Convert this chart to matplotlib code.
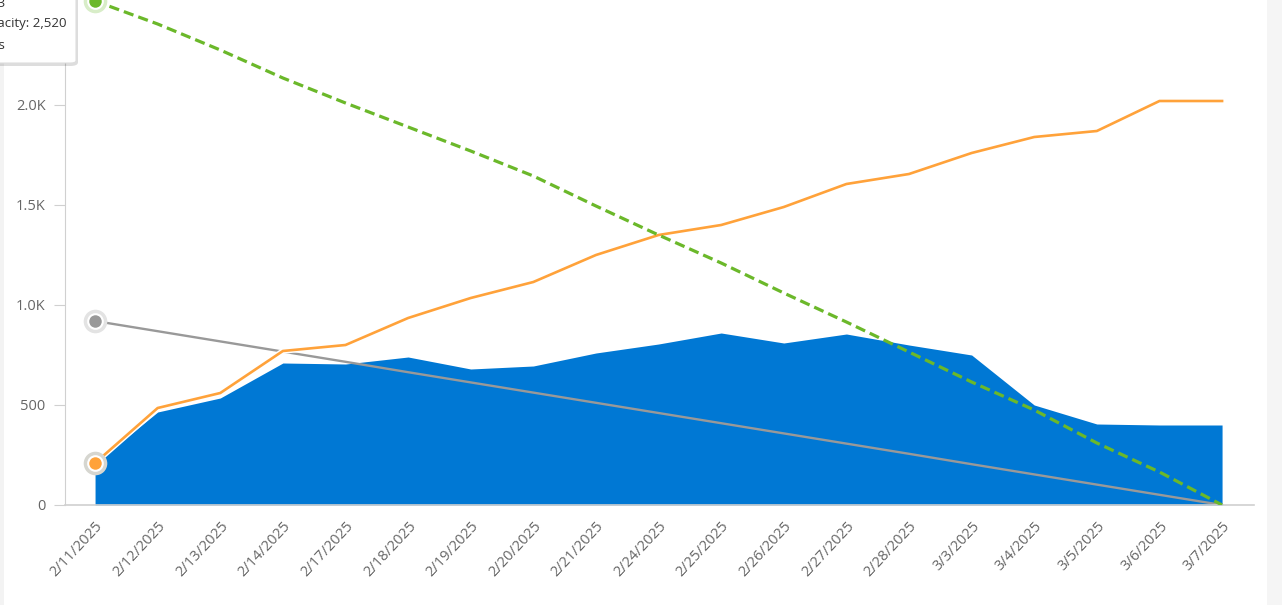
import matplotlib
matplotlib.use("Agg")
import matplotlib.pyplot as plt
import matplotlib.patheffects as pe
from matplotlib.patches import Rectangle, FancyBboxPatch
from matplotlib.ticker import FuncFormatter

# burndown data
dates = ["2/11/2025", "2/12/2025", "2/13/2025", "2/14/2025", "2/17/2025", "2/18/2025",
         "2/19/2025", "2/20/2025", "2/21/2025", "2/24/2025", "2/25/2025", "2/26/2025",
         "2/27/2025", "2/28/2025", "3/3/2025", "3/4/2025", "3/5/2025", "3/6/2025", "3/7/2025"]
remaining = [210, 465, 535, 710, 705, 740, 680, 695, 760, 805, 860, 810, 855, 800, 750, 500, 405, 400, 400]
total_scope = [210, 485, 560, 770, 800, 935, 1035, 1115, 1250, 1350, 1400, 1490, 1605, 1655, 1760, 1840, 1870, 2020, 2020]
ideal_trend = [920, 869, 818, 767, 716, 664, 613, 562, 511, 460, 409, 358, 307, 256, 204, 153, 102, 51, 0]
capacity = [2520, 2405, 2275, 2135, 2010, 1890, 1770, 1645, 1495, 1350, 1210, 1060, 915, 765, 615, 475, 310, 165, 0]

BLUE = "#0078d4"
ORANGE = "#ffa23a"
GREEN = "#6bb82a"
GRAY = "#999999"
TXT = "#666666"

plt.rcParams['font.family'] = ['Open Sans', 'DejaVu Sans']

W, H = 1282, 605
fig = plt.figure(figsize=(W / 100, H / 100), dpi=100)
fig.patch.set_facecolor("white")
ax = fig.add_axes([65 / W, 100 / H, (1254 - 65) / W, 505 / H])
ax.set_facecolor("none")

x = list(range(len(dates)))
ax.fill_between(x, 0, remaining, color=BLUE, lw=0, zorder=1)
ax.plot(x, ideal_trend, color=GRAY, lw=1.7, zorder=2)
ax.plot(x, total_scope, color=ORANGE, lw=1.9, zorder=3,
        path_effects=[pe.Stroke(linewidth=4, foreground="white"), pe.Normal()])
ax.plot(x, capacity, color=GREEN, lw=2.3, dashes=(3.2, 1.6), zorder=4)

# hover markers on the first point
for vals, c, halo in [(ideal_trend, GRAY, "#e3e3e3"), (total_scope, ORANGE, "#d6d6d0"),
                      (capacity, GREEN, "#d8edc8")]:
    ax.plot(x[0], vals[0], "o", ms=17, color=halo, mec="none", zorder=5, clip_on=False)
    ax.plot(x[0], vals[0], "o", ms=10.5, color=c, mec="white", mew=1.5, zorder=6, clip_on=False)

ax.set_xlim(-0.48, 18.51)
ax.set_ylim(0, 2525)
ax.set_yticks([0, 500, 1000, 1500, 2000])
ax.yaxis.set_major_formatter(FuncFormatter(lambda v, p: "0" if v == 0 else (f"{v/1000:.1f}K" if v >= 1000 else f"{int(v)}")))
ax.set_xticks(x)
ax.set_xticklabels(dates, rotation=47, ha="right", rotation_mode="anchor")

for s in ["top", "right"]:
    ax.spines[s].set_visible(False)
ax.spines["left"].set_color("#d0d0d0")
ax.spines["bottom"].set_color("#d0d0d0")
ax.spines["bottom"].set_linewidth(1.2)
ax.tick_params(axis="y", length=8, color="#d0d0d0", labelcolor=TXT, labelsize=10.5, pad=6)
ax.tick_params(axis="x", length=0, labelcolor=TXT, labelsize=10.5, pad=10)

# side strips of the page
fig.patches.append(Rectangle((1267 / W, 0), 15 / W, 1, transform=fig.transFigure,
                             facecolor="#f5f5f5", edgecolor="none", zorder=0))
fig.patches.append(Rectangle((0, 0), 4 / W, 1, transform=fig.transFigure,
                             facecolor="#f3f3f3", edgecolor="none", zorder=0))

# tooltip, cut off at the top left as in the screenshot
shadow = FancyBboxPatch((-40 / W, (H - 66) / H), 118 / W, 80 / H, boxstyle="round,pad=0,rounding_size=0.006",
                        transform=fig.transFigure, facecolor="#00000022", edgecolor="none", zorder=20)
box = FancyBboxPatch((-40 / W, (H - 63) / H), 116 / W, 80 / H, boxstyle="round,pad=0,rounding_size=0.004",
                     transform=fig.transFigure, facecolor="white", edgecolor="#dddddd", lw=0.8, zorder=21)
fig.patches.extend([shadow, box])
fig.text(5 / W, (H - 3) / H, "Sprint 3", ha="right", va="center", fontsize=9.5, color="#333333", zorder=22)
fig.text(66 / W, (H - 24) / H, "Remaining capacity: 2,520", ha="right", va="center", fontsize=9.5,
         color="#333333", zorder=22)
fig.text(5 / W, (H - 45) / H, "Work days", ha="right", va="center", fontsize=9.5, color="#333333", zorder=22)

fig.savefig("out.png", dpi=100)
